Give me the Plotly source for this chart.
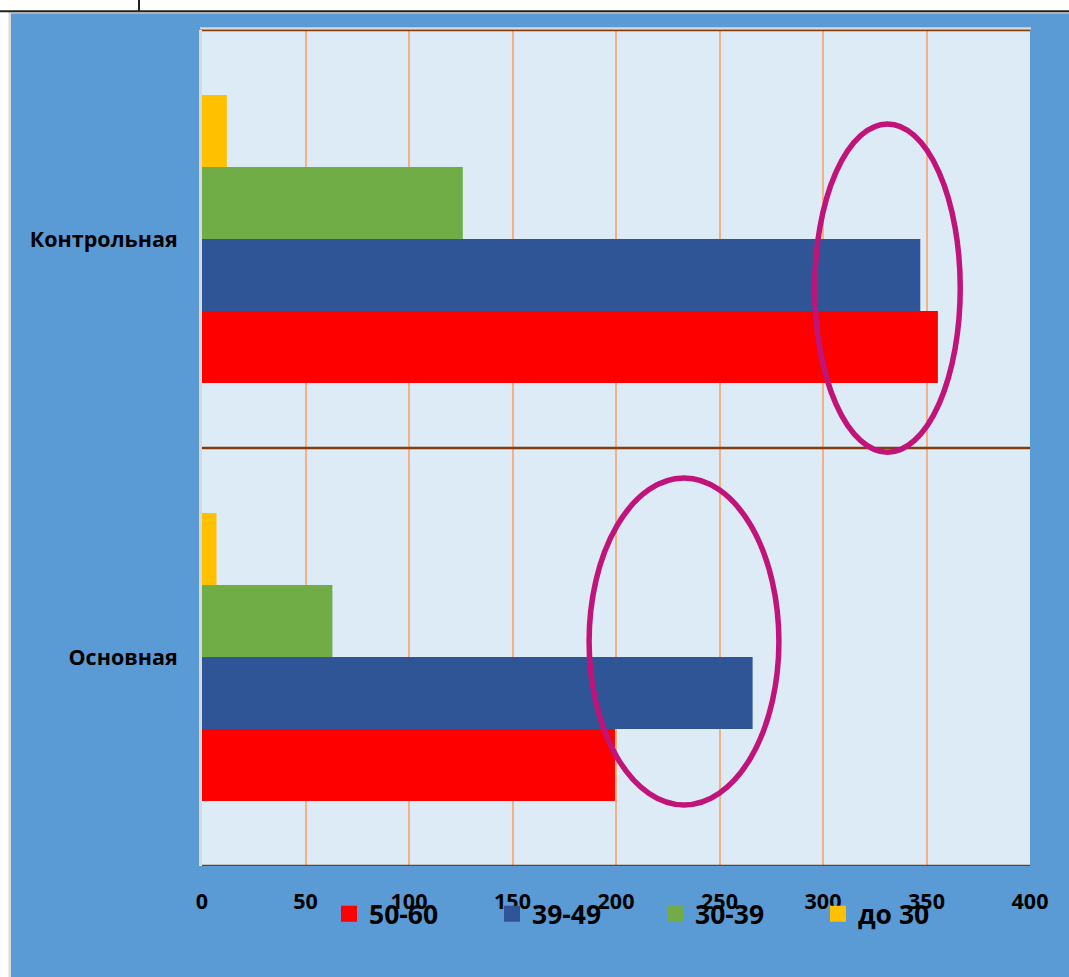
import plotly.graph_objects as go

# ---- data ----
categories = ["Основная", "Контрольная"]
series_names = ["50-60", "39-49", "30-39", "до 30"]
values_50_60 = [199.5, 355.5]
values_39_49 = [266, 347]
values_30_39 = [63, 126]
values_do_30 = [7, 12]
series_values = [values_50_60, values_39_49, values_30_39, values_do_30]
series_colors = ["#FF0000", "#2F5597", "#70AD47", "#FFC000"]
x_ticks = [0, 50, 100, 150, 200, 250, 300, 350, 400]

# highlight ellipses (x in axis units, y in category index units)
ellipses = [
    dict(x0=296.0, x1=366.3, y0=0.490, y1=1.275),
    dict(x0=187.0, x1=278.7, y0=-0.354, y1=0.428),
]

W, H = 1069, 977
L, R, T, B = 202, 39, 30, 111
pw, ph = W - L - R, H - T - B


def px_x(p):
    return (p - L) / pw


def px_y(p):
    return (H - B - p) / ph


FONT = "Open Sans"

fig = go.Figure()
for name, vals, col in zip(series_names, series_values, series_colors):
    fig.add_trace(go.Bar(
        y=categories, x=vals, name=name, orientation="h",
        marker=dict(color=col, line=dict(width=0)),
        showlegend=False,
    ))
# legend-only entries with larger square markers
for name, col in zip(series_names, series_colors):
    fig.add_trace(go.Scatter(
        x=[None], y=[None], mode="markers", name=name,
        marker=dict(symbol="square", size=18, color=col, line=dict(width=0)),
        showlegend=True,
    ))

shapes = []
# horizontal brown category-boundary lines
for yv in [-0.5, 0.5, 1.5]:
    shapes.append(dict(type="line", xref="paper", yref="y", x0=0, x1=1, y0=yv, y1=yv,
                       line=dict(color="#843C0C", width=2.5), layer="above"))
# ellipses
for e in ellipses:
    shapes.append(dict(type="circle", xref="x", yref="y", **e,
                       line=dict(color="#C0147A", width=5.5), layer="above"))
# white strips on top/left of page
shapes.append(dict(type="rect", xref="paper", yref="paper", x0=px_x(-5), x1=px_x(W + 5),
                   y0=px_y(13), y1=px_y(-5), fillcolor="white", line=dict(width=0), layer="above"))
shapes.append(dict(type="rect", xref="paper", yref="paper", x0=px_x(-5), x1=px_x(11),
                   y0=px_y(H + 5), y1=px_y(-5), fillcolor="white", line=dict(width=0), layer="above"))
shapes.append(dict(type="rect", xref="paper", yref="paper", x0=px_x(8.5), x1=px_x(11),
                   y0=px_y(H + 5), y1=px_y(12), fillcolor="#D9D9D9", line=dict(width=0), layer="above"))
shapes.append(dict(type="rect", xref="paper", yref="paper", x0=px_x(8.5), x1=px_x(W + 5),
                   y0=px_y(13.5), y1=px_y(12), fillcolor="#D9D9D9", line=dict(width=0), layer="above"))
shapes.append(dict(type="line", xref="paper", yref="paper", x0=px_x(-5), x1=px_x(W + 5),
                   y0=px_y(11.2), y1=px_y(11.2), line=dict(color="#222222", width=2), layer="above"))
shapes.append(dict(type="line", xref="paper", yref="paper", x0=px_x(139), x1=px_x(139),
                   y0=px_y(11), y1=px_y(-5), line=dict(color="#222222", width=2), layer="above"))
# light grey frame top of plot area
shapes.append(dict(type="line", xref="paper", yref="paper", x0=px_x(200), x1=px_x(1031),
                   y0=px_y(28.3), y1=px_y(28.3), line=dict(color="#D9D9D9", width=2), layer="below"))

fig.update_layout(
    width=W, height=H,
    margin=dict(l=L, r=R, t=T, b=B, pad=0),
    paper_bgcolor="#5B9BD5",
    plot_bgcolor="#DDEBF7",
    barmode="group",
    bargap=0.311,
    bargroupgap=0,
    font=dict(family=FONT, color="black"),
    shapes=shapes,
    showlegend=True,
    legend=dict(
        orientation="h", x=px_x(329), y=px_y(914), xanchor="left", yanchor="middle",
        bgcolor="rgba(0,0,0,0)", font=dict(family=FONT, size=26.5, weight="bold", color="black"),
        entrywidth=118, itemsizing="trace", traceorder="normal",
    ),
    xaxis=dict(
        range=[0, 400], tickvals=x_ticks, ticktext=[str(v) for v in x_ticks],
        showgrid=True, gridcolor="#F4B183", gridwidth=2,
        zeroline=False, showline=False, ticks="", ticklabelstandoff=20,
        tickfont=dict(family=FONT, size=21.5, weight="bold", color="black"),
        fixedrange=True,
    ),
    yaxis=dict(
        type="category", categoryorder="array", categoryarray=categories,
        range=[-0.5, 1.5], showgrid=False, zeroline=False,
        showline=True, linecolor="#D9D9D9", linewidth=3,
        ticks="", ticklabelstandoff=17,
        tickfont=dict(family=FONT, size=21.5, weight="bold", color="black"),
        fixedrange=True,
    ),
)

fig.write_html("out.html")
